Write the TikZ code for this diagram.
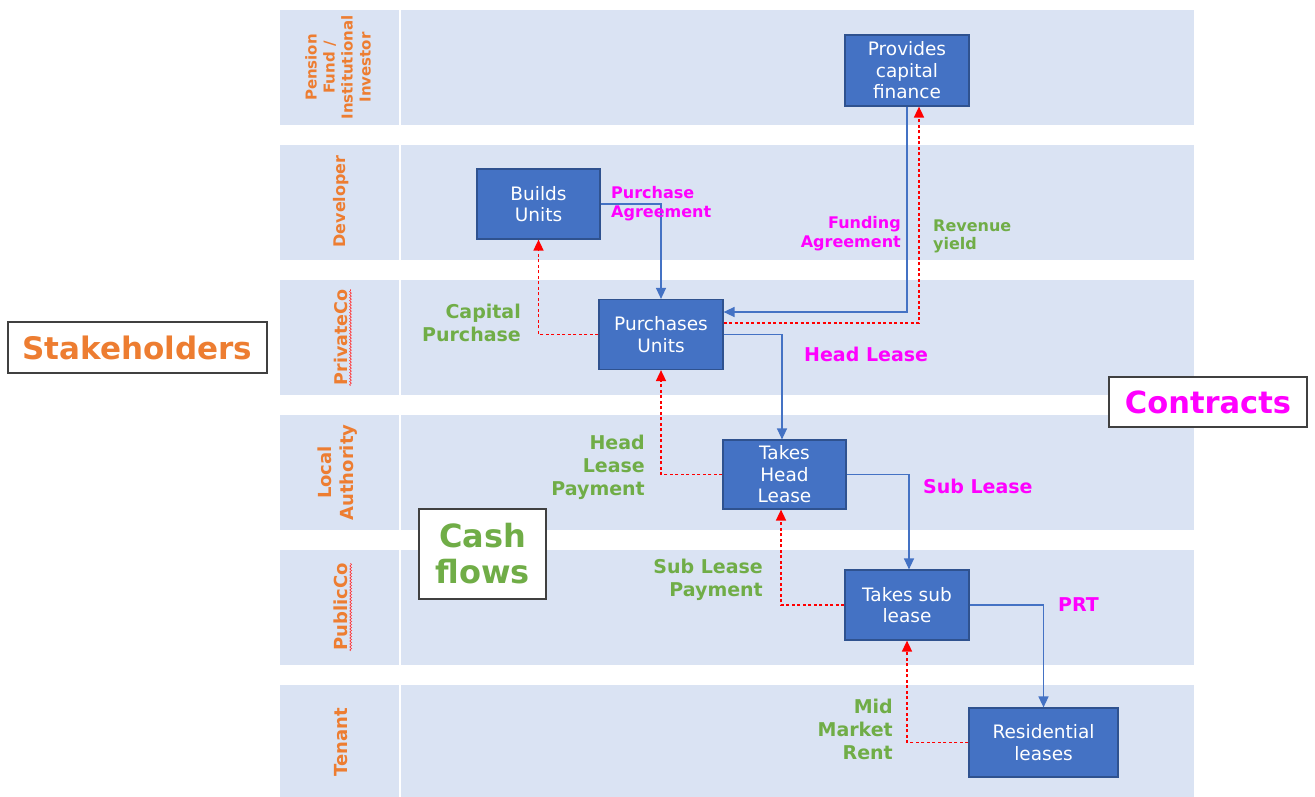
\documentclass[tikz,border=0pt]{standalone}
\usepackage{fontspec}
\setmainfont{DejaVu Sans}
\usetikzlibrary{arrows.meta,calc,decorations.pathmorphing}
\definecolor{lane}{HTML}{DAE3F3}
\definecolor{boxfill}{HTML}{4472C4}
\definecolor{boxline}{HTML}{2F528F}
\definecolor{flowblue}{HTML}{4472C4}
\definecolor{orng}{HTML}{ED7D31}
\definecolor{grn}{HTML}{70AD47}
\definecolor{mag}{HTML}{FF00FF}
\definecolor{frame}{HTML}{404040}
\begin{document}
\begin{tikzpicture}[x=1pt,y=-1pt,
  stepbox/.style={draw=boxline,line width=1.2pt,fill=boxfill,text=white,minimum width=123pt,minimum height=70pt,align=center,inner sep=2pt,font=\fontsize{18.5}{21.5}\selectfont},
  lanelabel/.style={rotate=90,text=orng,align=center,inner sep=0pt},
  contract/.style={draw=flowblue,line width=1.4pt,-{Triangle[length=11pt,width=10pt]}},
  cash/.style={draw=red,line width=1.6pt,dash pattern=on 3pt off 2.5pt,-{Triangle[length=11pt,width=10pt]}},
  mtext/.style={text=mag,inner sep=0pt,font=\bfseries\fontsize{19}{23}\selectfont},
  msmall/.style={text=mag,inner sep=0pt,font=\bfseries\fontsize{16}{19}\selectfont},
  gtext/.style={text=grn,inner sep=0pt,font=\bfseries\fontsize{19}{23}\selectfont},
  gsmall/.style={text=grn,inner sep=0pt,font=\bfseries\fontsize{16}{18}\selectfont},
  keybox/.style={draw=frame,line width=1.2pt,fill=white,align=center,inner sep=0pt},
  spell/.style={draw=red!80,line width=0.6pt,decorate,decoration={snake,amplitude=0.9pt,segment length=3pt}}
]
\useasboundingbox (0,0) rectangle (1315,796);
% lanes
\foreach \y in {10,145,280,415,550,685}{
  \fill[lane] (280,\y) rectangle (399,{\y+115});
  \fill[lane] (401,\y) rectangle (1194,{\y+115});
}
% lane labels
\node[lanelabel,font=\bfseries\fontsize{15}{18}\selectfont] (l1) at (338,67.5) {Pension\\Fund /\\Institutional\\Investor};
\node[lanelabel,font=\bfseries\fontsize{16}{18}\selectfont] (l2) at (341,201.5) {Developer};
\node[lanelabel,font=\bfseries\fontsize{17.5}{20}\selectfont] (l3) at (341,337.5) {PrivateCo};
\node[lanelabel,font=\bfseries\fontsize{18}{22}\selectfont] (l4) at (338,472.5) {Local\\Authority};
\node[lanelabel,font=\bfseries\fontsize{18}{20}\selectfont] (l5) at (341,607) {PublicCo};
\node[lanelabel,font=\bfseries\fontsize{18}{20}\selectfont] (l6) at (341,742.5) {Tenant};
\draw[spell] ($(l3.south west)+(2.5,0)$) -- ($(l3.south east)+(2.5,0)$);
\draw[spell] ($(l5.south west)+(2.5,0)$) -- ($(l5.south east)+(2.5,0)$);
% key boxes
\node[keybox,minimum width=259pt,minimum height=51pt,text=orng,font=\bfseries\fontsize{31}{34}\selectfont] (kst) at (137.5,347.5) {Stakeholders};
\node[keybox,minimum width=198pt,minimum height=50pt,text=mag,font=\bfseries\fontsize{30.5}{34}\selectfont] (kco) at (1208,402) {Contracts};
\node[keybox,minimum width=127pt,minimum height=90pt,text=grn,font=\bfseries\fontsize{32}{36}\selectfont] (kcf) at (482.5,554) {Cash\\flows};
% process boxes
\node[stepbox,minimum width=124pt,minimum height=71pt] (prov) at (907,70.5) {Provides\\capital\\finance};
\node[stepbox] (build) at (538.5,204) {Builds\\Units};
\node[stepbox,minimum width=124pt] (purch) at (661,334.5) {Purchases\\Units};
\node[stepbox,minimum height=69pt] (head) at (784.5,474.5) {Takes\\Head\\Lease};
\node[stepbox,minimum width=124pt] (sub) at (907,605) {Takes sub\\lease};
\node[stepbox,minimum width=149pt,minimum height=69pt] (res) at (1043.5,742.5) {Residential\\leases};
% contracts (blue)
\draw[contract] (prov.south) |- ($(purch.east)+(0,-22.5)$);
\draw[contract] (build.east) -| (purch.north);
\draw[contract] (purch.east) -| ($(head.north)+(-2.5,0)$);
\draw[contract] (head.east) -| ($(sub.north)+(2,0)$);
\draw[contract] (sub.east) -| (res.north);
% cash flows (red)
\draw[cash] ($(purch.east)+(0,-11.5)$) -| ($(prov.south)+(12,0)$);
\draw[cash] (purch.west) -| (build.south);
\draw[cash] (head.west) -| (purch.south);
\draw[cash] (sub.west) -| ($(head.south)+(-3.5,0)$);
\draw[cash] (res.west) -| (sub.south);
% labels
\node[msmall,align=left,anchor=west] (lpa) at (611,204) {Purchase\\Agreement};
\node[msmall,align=right,anchor=east] (lfa) at (901,234) {Funding\\Agreement};
\node[gsmall,align=left,anchor=west] (lry) at (933,236) {Revenue\\yield};
\node[gtext,align=right,anchor=east] (lcp) at (521,323) {Capital\\Purchase};
\node[mtext,anchor=west] (lhl) at (804,354) {Head Lease};
\node[gtext,align=right,anchor=east] (lhlp) at (645,467) {Head\\Lease\\Payment};
\node[mtext,anchor=west] (lsl) at (923,486) {Sub Lease};
\node[gtext,align=right,anchor=east] (lslp) at (763,580) {Sub Lease\\Payment};
\node[mtext,anchor=west] (lprt) at (1058,605) {PRT};
\node[gtext,align=right,anchor=east] (lmmr) at (893,729) {Mid\\Market\\Rent};
\end{tikzpicture}
\end{document}
